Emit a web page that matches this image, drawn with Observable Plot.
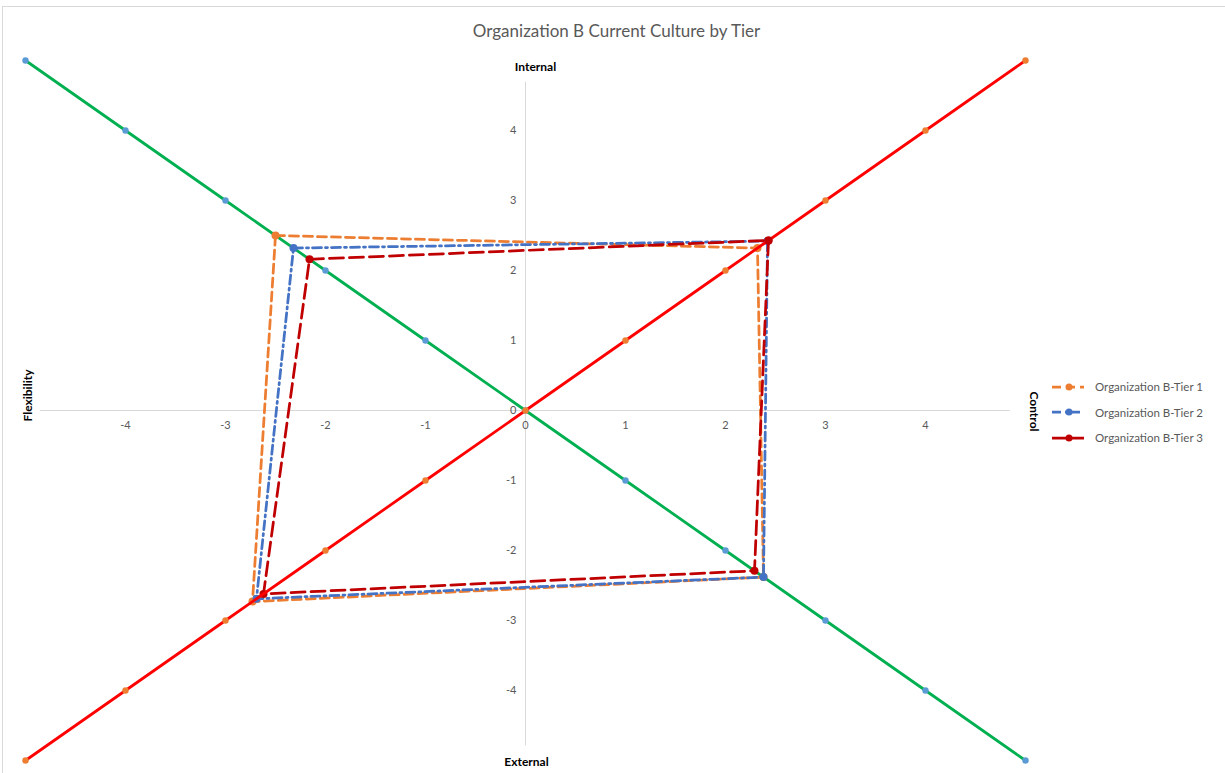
<!DOCTYPE html>
<html>
<head>
<meta charset="utf-8">
<script src="https://cdn.jsdelivr.net/npm/d3@7"></script>
<script src="https://cdn.jsdelivr.net/npm/@observablehq/plot@0.6"></script>
<style>
  html, body { margin: 0; padding: 0; background: #fff; }
  body { font-family: Lato, "Open Sans", sans-serif; }
  #wrap { position: relative; width: 1225px; height: 773px; overflow: hidden; }
  #frame { position: absolute; left: 2px; top: 6px; width: 1230px; height: 780px; border: 1px solid #d9d9d9; box-sizing: border-box; pointer-events: none; }
  #title { position: absolute; left: 0; width: 1233px; top: 20px; text-align: center; font-size: 17px; color: #595959; }
  #legend { position: absolute; left: 1050px; top: 374px; font-size: 11.5px; color: #595959; }
  #legend .row { height: 25.5px; display: flex; align-items: center; white-space: nowrap; }
  #legend svg { margin-right: 9px; }
</style>
</head>
<body>
<div id="wrap">
  <div id="chart"></div>
  <div id="frame"></div>
  <div id="title"></div>
  <div id="legend"></div>
</div>
<script>
// ---- data ----
const title = "Organization B Current Culture by Tier";

const greenX = [-5, -4, -3, -2, -1, 0, 1, 2, 3, 4, 5];
const greenY = [5, 4, 3, 2, 1, 0, -1, -2, -3, -4, -5];
const redX = [-5, -4, -3, -2, -1, 0, 1, 2, 3, 4, 5];
const redY = [-5, -4, -3, -2, -1, 0, 1, 2, 3, 4, 5];

const seriesNames = ["Organization B-Tier 1", "Organization B-Tier 2", "Organization B-Tier 3"];
const tier1X = [-2.5, 2.32, 2.38, -2.73, -2.5];
const tier1Y = [2.5, 2.32, -2.38, -2.73, 2.5];
const tier2X = [-2.32, 2.42, 2.38, -2.69, -2.32];
const tier2Y = [2.32, 2.42, -2.38, -2.69, 2.32];
const tier3X = [-2.16, 2.43, 2.29, -2.62, -2.16];
const tier3Y = [2.16, 2.43, -2.29, -2.62, 2.16];

const xTicks = [-4, -3, -2, -1, 0, 1, 2, 3, 4];
const yTicks = [4, 3, 2, 1, 0, -1, -2, -3, -4];
const axisTitles = { top: "Internal", bottom: "External", left: "Flexibility", right: "Control" };

// ---- styles ----
const tierColors = ["#ED7D31", "#4472C4", "#C00000"];
const tierDash = ["9,5", "9,4,2,4", "14,6"];

const pts = (xs, ys) => xs.map((x, i) => ({x, y: ys[i]}));
const green = pts(greenX, greenY);
const red = pts(redX, redY);
const tiers = [pts(tier1X, tier1Y), pts(tier2X, tier2Y), pts(tier3X, tier3Y)];

const font = "Lato, 'Open Sans', sans-serif";

const marks = [
  Plot.ruleY([0], {x1: -4.85, x2: 4.85, stroke: "#d9d9d9", strokeWidth: 1}),
  Plot.ruleX([0], {y1: 4.69, y2: -4.79, stroke: "#d9d9d9", strokeWidth: 1}),
  Plot.text(xTicks, {x: d => d, y: 0, dy: 15, text: d => String(d), fill: "#595959", fontSize: 11}),
  Plot.text(yTicks, {x: 0, y: d => d, dx: -9, text: d => String(d), textAnchor: "end", fill: "#595959", fontSize: 11}),
  Plot.line(green, {x: "x", y: "y", stroke: "#00B050", strokeWidth: 2.75}),
  Plot.dot(green, {x: "x", y: "y", r: 3.2, fill: "#5B9BD5", stroke: "none"}),
];
tiers.forEach((t, i) => {
  marks.push(Plot.line(t, {x: "x", y: "y", stroke: tierColors[i], strokeWidth: 2.75, strokeDasharray: tierDash[i], curve: "linear"}));
  marks.push(Plot.dot(t.slice(0, 4), {x: "x", y: "y", r: 4, fill: tierColors[i], stroke: "none"}));
});
marks.push(
  Plot.line(red, {x: "x", y: "y", stroke: "#FF0000", strokeWidth: 2.75}),
  Plot.dot(red, {x: "x", y: "y", r: 3.2, fill: "#ED7D31", stroke: "none"}),
  Plot.dot([tiers[2][1]], {x: "x", y: "y", r: 4, fill: tierColors[2], stroke: "none"}),
  Plot.text([axisTitles.top], {frameAnchor: "top", textAnchor: "middle", dx: 10, dy: 7, lineAnchor: "middle", fontWeight: "bold", fontSize: 12, fill: "#000"}),
  Plot.text([axisTitles.bottom], {frameAnchor: "bottom", textAnchor: "middle", lineAnchor: "middle", dx: 1, dy: 2, fontWeight: "bold", fontSize: 12, fill: "#000"}),
  Plot.text([axisTitles.left], {frameAnchor: "left", textAnchor: "middle", lineAnchor: "middle", dx: 3, dy: -15, rotate: -90, fontWeight: "bold", fontSize: 12, fill: "#000"}),
  Plot.text([axisTitles.right], {frameAnchor: "right", textAnchor: "middle", lineAnchor: "middle", dx: 8, dy: 1, rotate: 90, fontWeight: "bold", fontSize: 12, fill: "#000"})
);

const chart = Plot.plot({
  width: 1225,
  height: 773,
  marginLeft: 25,
  marginRight: 200,
  marginTop: 60,
  marginBottom: 13,
  x: {domain: [-5, 5], axis: null},
  y: {domain: [-5, 5], axis: null},
  style: {fontFamily: font, background: "transparent", overflow: "visible"},
  marks
});
document.getElementById("chart").appendChild(chart);
document.getElementById("title").textContent = title;

// ---- legend ----
const legend = d3.select("#legend");
seriesNames.forEach((name, i) => {
  const row = legend.append("div").attr("class", "row");
  const svg = row.append("svg").attr("width", 36).attr("height", 10);
  svg.append("line").attr("x1", 2).attr("x2", 34).attr("y1", 5).attr("y2", 5)
    .attr("stroke", tierColors[i]).attr("stroke-width", 2.75).attr("stroke-dasharray", tierDash[i]);
  svg.append("circle").attr("cx", 19).attr("cy", 5).attr("r", 3.5).attr("fill", tierColors[i]);
  row.append("span").text(name);
});
</script>
</body>
</html>
